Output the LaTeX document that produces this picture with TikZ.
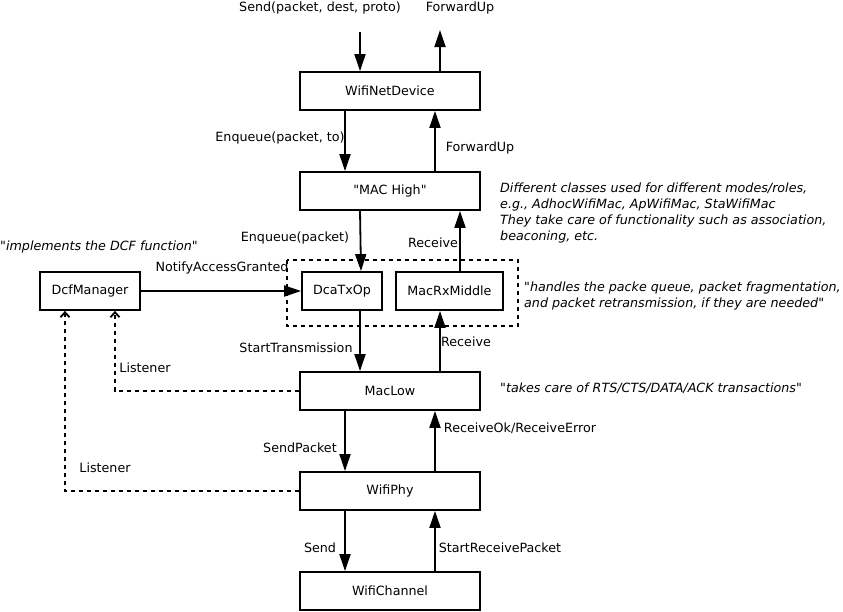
\documentclass[tikz,border=0pt]{standalone}
\usepackage{fontspec}
\newfontfamily\dv{DejaVu Sans}
\usetikzlibrary{arrows.meta}
\begin{document}
\begin{tikzpicture}[x=1pt,y=-1pt,
  every node/.style={font=\dv\fontsize{12.7}{16.3}\selectfont},
  box/.style={draw,line width=1.8pt,minimum width=180pt,minimum height=38pt,inner sep=0pt},
  sbox/.style={draw,line width=1.8pt,minimum height=38pt,inner sep=0pt},
  lbl/.style={inner sep=0pt},
  note/.style={inner sep=0pt,align=left,font=\dv\fontsize{12.7}{16.3}\selectfont\itshape},
  arr/.style={line width=1.8pt,-{Triangle[length=17pt,width=11pt]}},
  lis/.style={line width=1.8pt,dash pattern=on 4pt off 4pt,-{Straight Barb[length=5pt,width=9pt,line width=1.8pt]}},
  grp/.style={line width=1.8pt,dash pattern=on 4pt off 4pt}]
\useasboundingbox (0,0) rectangle (843,611);
% boxes
\node[box] (wnd) at (390,91) {WifiNetDevice};
\node[box] (mh) at (390,191) {\upshape"MAC High"};
\node[sbox,minimum width=80pt] (dca) at (342,291) {DcaTxOp};
\node[sbox,minimum width=107pt] (rx) at (449.5,291) {MacRxMiddle};
\node[sbox,minimum width=100pt] (dcf) at (90,291) {DcfManager};
\node[box] (low) at (390,391) {MacLow};
\node[box] (phy) at (390,491) {WifiPhy};
\node[box] (ch) at (390,591) {WifiChannel};
\draw[grp] (287,260) rectangle (518,326);
% free ends
\coordinate (sendin) at (360,32);
\coordinate (fwdout) at (440,30);
% arrows
\draw[arr] (sendin) -- ([xshift=-30pt]wnd.north);
\draw[arr] ([xshift=50pt]wnd.north) -- (fwdout);
\draw[arr] ([xshift=-45pt]wnd.south) -- ([xshift=-45pt]mh.north);
\draw[arr] ([xshift=45pt]mh.north) -- ([xshift=45pt]wnd.south);
\draw[arr] ([xshift=-30pt]mh.south) -- ([xshift=19pt]dca.north);
\draw[arr] ([xshift=10.5pt]rx.north) -- ([xshift=70pt]mh.south);
\draw[arr] (dcf.east) -- (dca.west);
\draw[arr] ([xshift=18pt]dca.south) -- ([xshift=-30pt]low.north);
\draw[arr] ([xshift=50pt]low.north) -- ([xshift=-9.5pt]rx.south);
\draw[arr] ([xshift=-45pt]low.south) -- ([xshift=-45pt]phy.north);
\draw[arr] ([xshift=45pt]phy.north) -- ([xshift=45pt]low.south);
\draw[arr] ([xshift=-45pt]phy.south) -- ([xshift=-45pt]ch.north);
\draw[arr] ([xshift=45pt]ch.north) -- ([xshift=45pt]phy.south);
\draw[lis] (low.west) -| ([xshift=25pt]dcf.south);
\draw[lis] (phy.west) -| ([xshift=-25pt]dcf.south);
% labels
\node[lbl] (l1) at (320,8) {Send(packet, dest, proto)};
\node[lbl] (l2) at (460,8) {ForwardUp};
\node[lbl] (l3) at (280,138) {Enqueue(packet, to)};
\node[lbl] (l4) at (480,148) {ForwardUp};
\node[lbl] (l5) at (295,238) {Enqueue(packet)};
\node[lbl] (l6) at (433,243) {Receive};
\node[lbl] (l7) at (222,268) {NotifyAccessGranted};
\node[note,anchor=west] (n1) at (0,247) {{\upshape"}implements the DCF function{\upshape"}};
\node[lbl] (l8) at (296,348) {StartTransmission};
\node[lbl] (l9) at (466,342) {Receive};
\node[lbl] (l10) at (145,368) {Listener};
\node[lbl] (l11) at (300,448) {SendPacket};
\node[lbl] (l12) at (520,428) {ReceiveOk/ReceiveError};
\node[lbl] (l13) at (105,468) {Listener};
\node[lbl] (l14) at (320,548) {Send};
\node[lbl] (l15) at (500,548) {StartReceivePacket};
\node[note,anchor=west] (n2) at (500,213) {Different classes used for different modes/roles,\\e.g., AdhocWifiMac, ApWifiMac, StaWifiMac\\They take care of functionality such as association,\\beaconing, etc.};
\node[note,anchor=west] (n3) at (524,296) {{\upshape"}handles the packe queue, packet fragmentation,\\and packet retransmission, if they are needed{\upshape"}};
\node[note,anchor=west] (n4) at (500,388) {{\upshape"}takes care of RTS/CTS/DATA/ACK transactions{\upshape"}};
\end{tikzpicture}
\end{document}
